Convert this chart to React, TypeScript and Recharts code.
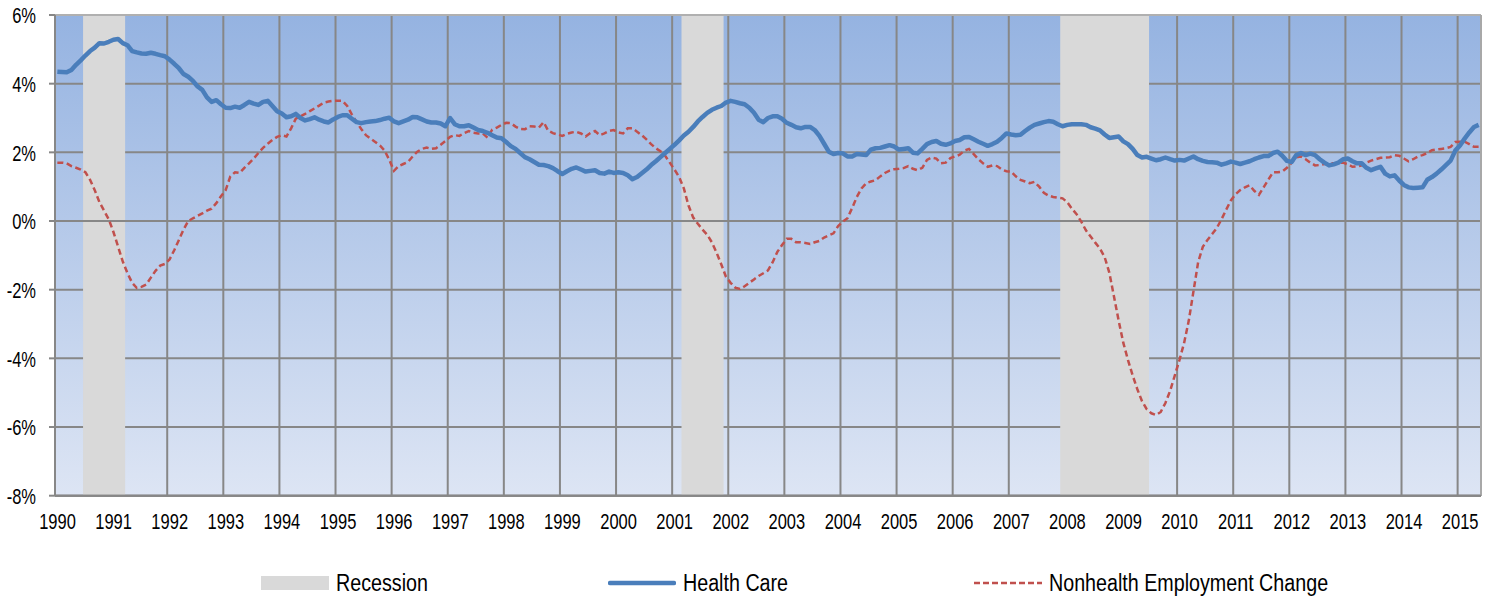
import React from 'react';
import {
  LineChart,
  Line,
  XAxis,
  YAxis,
  CartesianGrid,
  ReferenceArea,
  ReferenceLine,
  Legend,
} from 'recharts';

const startYear = 1990;
const yearLabels = [
  1990, 1991, 1992, 1993, 1994, 1995, 1996, 1997, 1998, 1999, 2000, 2001, 2002,
  2003, 2004, 2005, 2006, 2007, 2008, 2009, 2010, 2011, 2012, 2013, 2014, 2015,
];
const yTicks = [-8, -6, -4, -2, 0, 2, 4, 6];

// Monthly, Jan 1990 .. May 2015 (percent change)
const healthCare: number[] = [
  4.35, 4.34, 4.33, 4.4, 4.55, 4.68, 4.82, 4.95, 5.05, 5.18, 5.17, 5.22, // 1990
  5.28, 5.3, 5.18, 5.12, 4.95, 4.91, 4.88, 4.87, 4.9, 4.87, 4.83, 4.8, // 1991
  4.7, 4.58, 4.45, 4.28, 4.2, 4.08, 3.92, 3.82, 3.6, 3.47, 3.52, 3.4, // 1992
  3.3, 3.29, 3.33, 3.3, 3.38, 3.47, 3.42, 3.38, 3.47, 3.5, 3.35, 3.2, // 1993
  3.13, 3.02, 3.05, 3.12, 3.0, 2.93, 2.97, 3.02, 2.95, 2.9, 2.87, 2.96, // 1994
  3.03, 3.08, 3.08, 2.98, 2.88, 2.85, 2.88, 2.9, 2.91, 2.94, 2.98, 3.01, // 1995
  2.9, 2.85, 2.9, 2.95, 3.03, 3.02, 2.96, 2.9, 2.87, 2.87, 2.84, 2.76, // 1996
  3.0, 2.82, 2.76, 2.76, 2.79, 2.72, 2.65, 2.62, 2.57, 2.5, 2.43, 2.41, // 1997
  2.3, 2.18, 2.1, 1.98, 1.86, 1.8, 1.72, 1.64, 1.63, 1.6, 1.54, 1.45, // 1998
  1.37, 1.45, 1.52, 1.56, 1.5, 1.44, 1.46, 1.48, 1.4, 1.38, 1.44, 1.4, // 1999
  1.42, 1.4, 1.33, 1.22, 1.28, 1.39, 1.5, 1.63, 1.74, 1.86, 1.98, 2.1, // 2000
  2.22, 2.35, 2.49, 2.6, 2.74, 2.9, 3.03, 3.15, 3.24, 3.3, 3.35, 3.45, // 2001
  3.5, 3.47, 3.43, 3.4, 3.3, 3.15, 2.95, 2.88, 3.0, 3.05, 3.05, 2.98, // 2002
  2.86, 2.8, 2.73, 2.7, 2.74, 2.74, 2.65, 2.48, 2.25, 2.02, 1.95, 1.98, // 2003
  1.97, 1.88, 1.88, 1.95, 1.94, 1.92, 2.08, 2.12, 2.13, 2.17, 2.21, 2.17, // 2004
  2.08, 2.1, 2.12, 1.99, 1.97, 2.1, 2.24, 2.3, 2.33, 2.25, 2.22, 2.26, // 2005
  2.33, 2.36, 2.44, 2.45, 2.38, 2.31, 2.25, 2.19, 2.24, 2.31, 2.42, 2.55, // 2006
  2.52, 2.5, 2.51, 2.62, 2.72, 2.8, 2.84, 2.88, 2.91, 2.89, 2.82, 2.76, // 2007
  2.8, 2.82, 2.82, 2.82, 2.8, 2.73, 2.69, 2.64, 2.52, 2.42, 2.44, 2.46, // 2008
  2.32, 2.24, 2.1, 1.92, 1.85, 1.87, 1.82, 1.77, 1.8, 1.85, 1.8, 1.76, // 2009
  1.78, 1.76, 1.82, 1.88, 1.8, 1.75, 1.72, 1.71, 1.7, 1.64, 1.68, 1.73, // 2010
  1.7, 1.66, 1.7, 1.74, 1.8, 1.85, 1.89, 1.89, 1.98, 2.02, 1.9, 1.75, // 2011
  1.72, 1.92, 1.98, 1.92, 1.96, 1.92, 1.8, 1.7, 1.62, 1.65, 1.7, 1.8, // 2012
  1.82, 1.74, 1.68, 1.68, 1.55, 1.48, 1.53, 1.58, 1.38, 1.3, 1.33, 1.18, // 2013
  1.05, 0.98, 0.96, 0.97, 0.98, 1.2, 1.28, 1.38, 1.5, 1.63, 1.76, 2.05, // 2014
  2.2, 2.4, 2.58, 2.74, 2.8, // 2015
];

const nonhealth: number[] = [
  1.7, 1.7, 1.68, 1.6, 1.55, 1.5, 1.42, 1.2, 0.9, 0.55, 0.3, 0.05, // 1990
  -0.32, -0.75, -1.18, -1.52, -1.8, -1.95, -1.92, -1.85, -1.65, -1.45, -1.3, -1.25, // 1991
  -1.12, -0.85, -0.55, -0.25, 0.0, 0.08, 0.15, 0.22, 0.3, 0.36, 0.52, 0.72, // 1992
  0.9, 1.3, 1.42, 1.4, 1.55, 1.68, 1.82, 1.98, 2.13, 2.25, 2.36, 2.45, // 1993
  2.5, 2.46, 2.7, 2.98, 3.05, 3.12, 3.2, 3.28, 3.36, 3.45, 3.48, 3.5, // 1994
  3.5, 3.5, 3.35, 3.1, 2.88, 2.68, 2.5, 2.4, 2.3, 2.2, 2.05, 1.78, // 1995
  1.46, 1.6, 1.66, 1.72, 1.88, 2.02, 2.1, 2.14, 2.1, 2.12, 2.22, 2.33, // 1996
  2.45, 2.5, 2.48, 2.56, 2.62, 2.57, 2.55, 2.55, 2.43, 2.66, 2.72, 2.8, // 1997
  2.86, 2.85, 2.75, 2.68, 2.67, 2.76, 2.75, 2.72, 2.88, 2.63, 2.56, 2.52, // 1998
  2.48, 2.54, 2.58, 2.6, 2.55, 2.46, 2.56, 2.62, 2.5, 2.55, 2.62, 2.65, // 1999
  2.58, 2.55, 2.7, 2.7, 2.6, 2.5, 2.38, 2.24, 2.12, 2.03, 1.9, 1.7, // 2000
  1.5, 1.28, 0.95, 0.45, 0.1, -0.08, -0.25, -0.4, -0.62, -0.92, -1.26, -1.62, // 2001
  -1.8, -1.94, -1.98, -1.9, -1.8, -1.7, -1.6, -1.52, -1.44, -1.2, -0.9, -0.7, // 2002
  -0.52, -0.52, -0.62, -0.62, -0.64, -0.67, -0.62, -0.58, -0.48, -0.42, -0.36, -0.15, // 2003
  -0.02, 0.08, 0.38, 0.7, 0.95, 1.1, 1.15, 1.19, 1.3, 1.4, 1.47, 1.51, // 2004
  1.52, 1.54, 1.6, 1.52, 1.48, 1.55, 1.78, 1.85, 1.82, 1.68, 1.7, 1.83, // 2005
  1.88, 1.93, 2.05, 2.1, 1.95, 1.8, 1.68, 1.58, 1.62, 1.6, 1.5, 1.45, // 2006
  1.44, 1.3, 1.2, 1.15, 1.1, 1.14, 1.0, 0.82, 0.74, 0.7, 0.68, 0.66, // 2007
  0.55, 0.36, 0.2, -0.02, -0.27, -0.45, -0.63, -0.8, -1.05, -1.5, -2.2, -2.9, // 2008
  -3.55, -4.05, -4.5, -4.9, -5.25, -5.48, -5.6, -5.65, -5.56, -5.3, -4.95, -4.5, // 2009
  -4.05, -3.55, -2.9, -2.05, -1.2, -0.75, -0.55, -0.38, -0.2, 0.05, 0.33, 0.6, // 2010
  0.78, 0.9, 0.98, 1.04, 0.88, 0.76, 0.98, 1.2, 1.42, 1.42, 1.44, 1.55, // 2011
  1.7, 1.86, 1.88, 1.8, 1.7, 1.62, 1.63, 1.66, 1.68, 1.68, 1.69, 1.7, // 2012
  1.65, 1.58, 1.59, 1.62, 1.7, 1.76, 1.8, 1.84, 1.85, 1.86, 1.92, 1.9, // 2013
  1.82, 1.74, 1.8, 1.88, 1.92, 1.98, 2.06, 2.08, 2.1, 2.12, 2.16, 2.3, // 2014
  2.31, 2.31, 2.24, 2.16, 2.16, // 2015
];

const recessions = [
  { start: '1990-07', end: '1991-03' },
  { start: '2001-03', end: '2001-11' },
  { start: '2007-12', end: '2009-06' },
];

const legendItems = [
  { label: 'Recession', kind: 'area' },
  { label: 'Health Care', kind: 'solid' },
  { label: 'Nonhealth Employment Change', kind: 'dash' },
];

const monthIndex = (s: string) => {
  const [y, m] = s.split('-').map(Number);
  return (y - startYear) * 12 + (m - 1);
};

const data = healthCare.map((v, i) => ({
  t: i + 0.5,
  health: v,
  nonhealth: nonhealth[i],
}));

const totalMonths = healthCare.length;
const xTicks = yearLabels.map((y) => (y - startYear) * 12);

const FONT = '"Liberation Sans", Arial, sans-serif';
const GRID = '#878787';
const BLUE = '#4A7EBB';
const RED = '#C0504D';
const GRAY = '#D9D9D9';
const TEXT_STRETCH = 1.3;

const legendLeft = [261, 608, 974];

const XTick = (props: any) => {
  const { x, y, payload } = props;
  return (
    <g transform={`translate(${x + 2.5},${y + 10})`}>
      <text
        transform={`scale(1,${TEXT_STRETCH})`}
        textAnchor="middle"
        dominantBaseline="central"
        fontSize={16.5}
        fontFamily={FONT}
        fill="#000"
      >
        {String(startYear + payload.value / 12)}
      </text>
    </g>
  );
};

const YTick = (props: any) => {
  const { x, y, payload } = props;
  return (
    <g transform={`translate(${x},${y + 1})`}>
      <text
        transform={`scale(1,${TEXT_STRETCH})`}
        textAnchor="end"
        dominantBaseline="central"
        fontSize={16.5}
        fontFamily={FONT}
        fill="#000"
      >
        {`${payload.value}%`}
      </text>
    </g>
  );
};

const LegendContent = () => (
  <div style={{ position: 'relative', width: 1499, height: 58, fontFamily: FONT }}>
    {legendItems.map((it, i) => (
      <div
        key={it.label}
        style={{
          position: 'absolute',
          left: legendLeft[i],
          top: 35,
          height: 24,
          display: 'flex',
          alignItems: 'center',
          whiteSpace: 'nowrap',
        }}
      >
        <svg width={68} height={16} style={{ display: 'block' }}>
          {it.kind === 'area' && <rect x={0} y={1} width={68} height={14} fill={GRAY} />}
          {it.kind === 'solid' && (
            <line x1={2} y1={8} x2={66} y2={8} stroke={BLUE} strokeWidth={4.5} strokeLinecap="round" />
          )}
          {it.kind === 'dash' && (
            <line x1={0} y1={8} x2={68} y2={8} stroke={RED} strokeWidth={2.5} strokeDasharray="6 3" />
          )}
        </svg>
        <span
          style={{
            marginLeft: 7,
            fontSize: 19.7,
            color: '#000',
            display: 'inline-block',
            transform: 'scaleY(1.22)',
          }}
        >
          {it.label}
        </span>
      </div>
    ))}
  </div>
);

export default function App() {
  return (
    <div style={{ position: 'absolute', left: 0, top: 0, width: 1499, height: 599, background: '#fff' }}>
      <LineChart
        width={1499}
        height={599}
        data={data}
        margin={{ top: 15, right: 18, left: 0, bottom: 5 }}
      >
        <defs>
          <linearGradient id="plotBg" x1="0" y1="0" x2="0" y2="1">
            <stop offset="0%" stopColor="#95B3E1" />
            <stop offset="100%" stopColor="#DDE5F4" />
          </linearGradient>
        </defs>
        <CartesianGrid stroke={GRID} strokeWidth={2} fill="url(#plotBg)" fillOpacity={1} />
        <XAxis
          type="number"
          dataKey="t"
          domain={[0, totalMonths]}
          ticks={xTicks}
          interval={0}
          height={40.3}
          axisLine={{ stroke: GRID, strokeWidth: 2 }}
          tickLine={false}
          tickMargin={10}
          tick={<XTick />}
          allowDataOverflow
        />
        <YAxis
          type="number"
          domain={[-8, 6]}
          ticks={yTicks}
          width={55}
          interval={0}
          axisLine={{ stroke: GRID, strokeWidth: 2 }}
          tickLine={{ stroke: GRID, strokeWidth: 2 }}
          tickSize={6}
          tickMargin={13}
          tick={<YTick />}
          allowDataOverflow
        />
        {recessions.map((r) => (
          <ReferenceArea
            key={r.start}
            x1={monthIndex(r.start)}
            x2={monthIndex(r.end) + 1}
            y1={-8}
            y2={6}
            fill={GRAY}
            fillOpacity={1}
            stroke="none"
            ifOverflow="hidden"
          />
        ))}
        <ReferenceLine y={0} stroke={GRID} strokeWidth={2} />
        <ReferenceLine y={-8} stroke={GRID} strokeWidth={2} />
        <ReferenceLine y={6} stroke="#B0B0B0" strokeWidth={2} />
        <ReferenceLine x={totalMonths} stroke="#A8A8A8" strokeWidth={2} />
        <Line
          type="linear"
          dataKey="nonhealth"
          stroke={RED}
          strokeWidth={2.5}
          strokeDasharray="6 3.5"
          dot={false}
          activeDot={false}
          isAnimationActive={false}
        />
        <Line
          type="linear"
          dataKey="health"
          stroke={BLUE}
          strokeWidth={4.5}
          strokeLinejoin="round"
          dot={false}
          activeDot={false}
          isAnimationActive={false}
        />
        <Legend
          verticalAlign="bottom"
          height={58}
          content={() => <LegendContent />}
          wrapperStyle={{ left: 0, width: 1499 }}
        />
      </LineChart>
    </div>
  );
}
